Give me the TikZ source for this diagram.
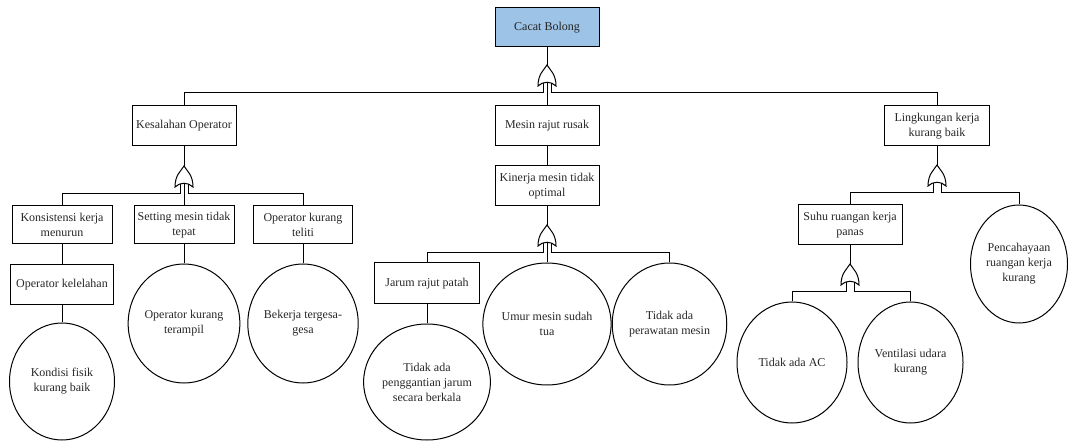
\documentclass[tikz,border=0pt]{standalone}
\usepackage{fontspec}
\setmainfont{Liberation Serif}
\newfontfamily\diagfont{Liberation Serif}
\usetikzlibrary{shapes.geometric}
\definecolor{topblue}{HTML}{9DC3E6}
\begin{document}
\begin{tikzpicture}[x=1pt,y=-1pt,
  every node/.style={font=\diagfont\fontsize{12}{15}\selectfont, align=center, text=black!85},
  conn/.style={draw=black, line width=1pt},
  evbox/.style={draw=black, line width=1pt, rectangle, minimum height=40pt, minimum width=104pt, inner sep=1pt},
  evell/.style={draw=black, line width=1pt, ellipse, inner sep=0pt},
  orgate/.pic={
    \draw[line width=1pt, fill=white] (0,0) .. controls (-3,5) and (-9,9) .. (-9,21)
      .. controls (-4,16) and (4,16) .. (9,21)
      .. controls (9,9) and (3,5) .. (0,0) -- cycle;
    \coordinate (-in) at (0,0);
    \coordinate (-l) at (-4,17.6);
    \coordinate (-r) at (4,17.6);
    \coordinate (-c) at (0,17.2);
    \coordinate (-bl) at (-4,28);
    \coordinate (-br) at (4,28);
  }]
\useasboundingbox (0,0) rectangle (1068,443);

% level 0
\node[evbox, fill=topblue, minimum height=39pt] (top) at (547,27.5) {Cacat Bolong};
\pic (g0) at (547,65) {orgate};

% level 1
\node[evbox] (ko) at (184,126) {Kesalahan Operator};
\node[evbox] (mr) at (547,126) {Mesin rajut rusak};
\node[evbox, minimum width=105pt] (lk) at (937,126) {Lingkungan kerja\\kurang baik};

% Kesalahan operator branch
\pic (g1) at (184,166) {orgate};
\node[evbox, minimum width=100pt, minimum height=38pt] (k1) at (62,225) {Konsistensi kerja\\menurun};
\node[evbox, minimum width=100pt, minimum height=38pt] (k2) at (184,225) {Setting mesin tidak\\tepat};
\node[evbox, minimum width=99pt, minimum height=38pt] (k3) at (303,225) {Operator kurang\\teliti};
\node[evbox, minimum width=103pt] (k4) at (62,285) {Operator kelelahan};
\node[evell, minimum width=105pt, minimum height=117pt] (e1) at (62,381.5) {Kondisi fisik\\kurang baik};
\node[evell, minimum width=105pt, minimum height=119pt] (e2) at (184,323.5) {Operator kurang\\terampil};
\node[evell, minimum width=100pt, minimum height=119pt] (e3) at (303,323.5) {Bekerja tergesa-\\gesa};

% Mesin rajut branch
\node[evbox] (km) at (547,186) {Kinerja mesin tidak\\optimal};
\pic (g2) at (547,225) {orgate};
\node[evbox, minimum width=105pt, minimum height=41pt] (jr) at (427,283.5) {Jarum rajut patah};
\node[evell, minimum width=107pt, minimum height=116pt] (e4) at (427,382) {Tidak ada\\penggantian jarum\\secara berkala};
\node[evell, minimum width=108pt, minimum height=122pt] (e5) at (547,324) {Umur mesin sudah\\tua};
\node[evell, minimum width=105pt, minimum height=122pt] (e6) at (669.5,324) {Tidak ada\\perawatan mesin};

% Lingkungan branch
\pic (g3) at (937,165) {orgate};
\node[evbox] (sr) at (850,225) {Suhu ruangan kerja\\panas};
\node[evell, minimum width=97pt, minimum height=118pt] (e7) at (1019,264) {Pencahayaan\\ruangan kerja\\kurang};
\pic (g4) at (850,264) {orgate};
\node[evell, minimum width=110pt, minimum height=121pt] (e8) at (792,362.5) {Tidak ada AC};
\node[evell, minimum width=105pt, minimum height=121pt] (e9) at (910.5,362.5) {Ventilasi udara\\kurang};

% connectors
\draw[conn] (top.south) -- (g0-in);
\draw[conn] (g0-l) -- (g0-bl) -| (ko.north);
\draw[conn] (g0-r) -- (g0-br) -| (lk.north);
\draw[conn] (g0-c) -- (mr.north);

\draw[conn] (ko.south) -- (g1-in);
\draw[conn] (g1-l) -- (g1-bl) -| (k1.north);
\draw[conn] (g1-r) -- (g1-br) -| (k3.north);
\draw[conn] (g1-c) -- (k2.north);
\draw[conn] (k1.south) -- (k4.north);
\draw[conn] (k4.south) -- (e1.north);
\draw[conn] (k2.south) -- (e2.north);
\draw[conn] (k3.south) -- (e3.north);

\draw[conn] (mr.south) -- (km.north);
\draw[conn] (km.south) -- (g2-in);
\draw[conn] (g2-l) -- (g2-bl) -| (jr.north);
\draw[conn] (g2-r) -- (g2-br) -| (e6.north);
\draw[conn] (g2-c) -- (e5.north);
\draw[conn] (jr.south) -- (e4.north);

\draw[conn] (lk.south) -- (g3-in);
\draw[conn] (g3-l) -- (g3-bl) -| (sr.north);
\draw[conn] (g3-r) -- (g3-br) -| (e7.north);
\draw[conn] (sr.south) -- (g4-in);
\draw[conn] (g4-l) -- (g4-bl) -| (e8.north);
\draw[conn] (g4-r) -- (g4-br) -| (e9.north);
\end{tikzpicture}
\end{document}
